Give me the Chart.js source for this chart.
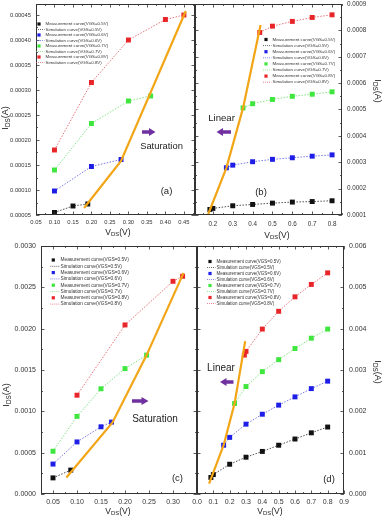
<!DOCTYPE html>
<html lang="en">
<head>
<meta charset="UTF-8">
<title>IDS-VDS: measurement vs simulation</title>
<script src="https://cdn.jsdelivr.net/npm/chart.js@4.4.1/dist/chart.umd.min.js"></script>
<style>
  body { margin: 0; background: #fff; font-family: 'Liberation Sans', Arial, sans-serif; }
  #wrap { position: relative; width: 385px; height: 516px; overflow: hidden; }
  #wrap canvas { position: absolute; left: 0; top: 0; }
  #wrap svg { position: absolute; left: 0; top: 0; }
  .t { position: absolute; color: #222; white-space: nowrap; line-height: 1; transform: translate(-50%, -50%); }
  .t sub { font-size: 70%; vertical-align: -0.25em; }
  .up { transform: translate(-50%, -50%) rotate(-90deg); }
  .down { transform: translate(-50%, -50%) rotate(90deg); }
</style>
</head>
<body>
<div id="wrap">
  <canvas id="ca" width="385" height="516"></canvas>
  <canvas id="cb" width="385" height="516"></canvas>
  <canvas id="cc" width="385" height="516"></canvas>
  <canvas id="cd" width="385" height="516"></canvas>

  <svg width="385" height="516">
    <g fill="#7030a0">
      <path d="M142 130.2 H149 V128 L155.5 132 L149 136 V133.8 H142 Z"/>
      <path d="M132 399.2 H141.5 V397 L148.5 401 L141.5 405 V402.8 H132 Z"/>
      <path d="M231 130.2 H223 V128 L216.5 132 L223 136 V133.8 H231 Z"/>
      <path d="M233.5 380.2 H226.5 V378 L220 382 L226.5 386 V383.8 H233.5 Z"/>
    </g>
  </svg>

  <div class="t" style="left:161.5px; top:146px; font-size:9.4px;">Saturation</div>
  <div class="t" style="left:155px; top:419px; font-size:10px;">Saturation</div>
  <div class="t" style="left:221.5px; top:118px; font-size:9.6px;">Linear</div>
  <div class="t" style="left:221px; top:367.5px; font-size:10px;">Linear</div>
  <div class="t" style="left:166.5px; top:191px; font-size:9.5px;">(a)</div>
  <div class="t" style="left:261px; top:191.5px; font-size:9.5px;">(b)</div>
  <div class="t" style="left:177.5px; top:478px; font-size:9.5px;">(c)</div>
  <div class="t" style="left:329px; top:478.5px; font-size:9.5px;">(d)</div>

  <div class="t up" style="left:6px; top:118px; font-size:9px;">I<sub>DS</sub>(A)</div>
  <div class="t down" style="left:377px; top:91px; font-size:9px;">I<sub>DS</sub>(A)</div>
  <div class="t up" style="left:7px; top:395px; font-size:9px;">I<sub>DS</sub>(A)</div>
  <div class="t down" style="left:377px; top:372px; font-size:9px;">I<sub>DS</sub>(A)</div>
  <div class="t" style="left:118px; top:232.5px; font-size:8.5px;">V<sub>DS</sub>(V)</div>
  <div class="t" style="left:277px; top:235.5px; font-size:8.5px;">V<sub>DS</sub>(V)</div>
  <div class="t" style="left:118px; top:512px; font-size:8.5px;">V<sub>DS</sub>(V)</div>
  <div class="t" style="left:270px; top:512px; font-size:8.5px;">V<sub>DS</sub>(V)</div>
</div>

<script>
// ---- (a) saturation region, small VDS range ----
const aX05 = [0.10, 0.15, 0.19];
const aY05 = [0.000055, 0.000068, 0.000072];
const aX06 = [0.10, 0.20, 0.28];
const aY06 = [0.000098, 0.000147, 0.000161];
const aX07 = [0.10, 0.20, 0.30, 0.36];
const aY07 = [0.00014, 0.000233, 0.000278, 0.000288];
const aX08 = [0.10, 0.20, 0.30, 0.40, 0.45];
const aY08 = [0.00018, 0.000315, 0.0004, 0.000441, 0.00045];
const aEdgeX = [0.18, 0.28, 0.455];
const aEdgeY = [0.000064, 0.000158, 0.000458];
const aXTicks = [0.05, 0.10, 0.15, 0.20, 0.25, 0.30, 0.35, 0.40, 0.45];
const aYTicks = [0.00005, 0.00010, 0.00015, 0.00020, 0.00025, 0.00030, 0.00035, 0.00040, 0.00045];

// ---- (b) linear region ----
const bX05 = [0.185, 0.2, 0.3, 0.4, 0.5, 0.6, 0.7, 0.8];
const bY05 = [0.000121, 0.000125, 0.000135, 0.00014, 0.000145, 0.000149, 0.000151, 0.000154];
const bX06 = [0.268, 0.3, 0.4, 0.5, 0.6, 0.7, 0.8];
const bY06 = [0.000279, 0.000289, 0.000302, 0.000311, 0.000317, 0.000323, 0.000328];
const bX07 = [0.352, 0.4, 0.5, 0.6, 0.7, 0.8];
const bY07 = [0.000506, 0.000522, 0.000538, 0.00055, 0.000558, 0.000567];
const bX08 = [0.436, 0.5, 0.6, 0.7, 0.8];
const bY08 = [0.000792, 0.000816, 0.000834, 0.000849, 0.000859];
const bEdgeX = [0.175, 0.268, 0.352, 0.44];
const bEdgeY = [0.0001, 0.000279, 0.000506, 0.00082];
const bXTicks = [0.2, 0.3, 0.4, 0.5, 0.6, 0.7, 0.8];
const bYTicks = [0.0001, 0.0002, 0.0003, 0.0004, 0.0005, 0.0006, 0.0007, 0.0008, 0.0009];

// ---- (c) saturation region, second device ----
const cX05 = [0.05, 0.087];
const cY05 = [0.000195, 0.000289];
const cX06 = [0.05, 0.10, 0.15, 0.172];
const cY06 = [0.000362, 0.00063, 0.000813, 0.00087];
const cX07 = [0.05, 0.10, 0.15, 0.20, 0.245];
const cY07 = [0.000517, 0.000939, 0.001273, 0.001517, 0.00168];
const cX08 = [0.10, 0.20, 0.30, 0.32];
const cY08 = [0.001195, 0.002045, 0.002573, 0.002634];
const cEdgeX = [0.078, 0.174, 0.245, 0.322];
const cEdgeY = [0.0002, 0.000866, 0.00168, 0.002675];
const cXTicks = [0.05, 0.10, 0.15, 0.20, 0.25, 0.30];
const cYTicks = [0, 0.0005, 0.0010, 0.0015, 0.0020, 0.0025, 0.0030];

// ---- (d) linear region, second device ----
const dX05 = [0.085, 0.1, 0.2, 0.3, 0.4, 0.5, 0.6, 0.7, 0.8];
const dY05 = [0.0004, 0.00047, 0.00072, 0.00089, 0.00103, 0.00118, 0.00133, 0.00148, 0.00162];
const dX06 = [0.163, 0.2, 0.3, 0.4, 0.5, 0.6, 0.7, 0.8];
const dY06 = [0.00118, 0.00137, 0.00169, 0.00193, 0.00215, 0.00235, 0.00255, 0.00273];
const dX07 = [0.23, 0.3, 0.4, 0.5, 0.6, 0.7, 0.8];
const dY07 = [0.00219, 0.0026, 0.00296, 0.00325, 0.00352, 0.00377, 0.00399];
const dX08 = [0.29, 0.3, 0.4, 0.5, 0.6, 0.7, 0.8];
const dY08 = [0.00336, 0.00345, 0.00399, 0.00442, 0.00477, 0.00507, 0.00535];
const dEdgeX = [0.074, 0.163, 0.23, 0.295];
const dEdgeY = [0.00025, 0.00118, 0.00219, 0.0037];
const dXTicks = [0.0, 0.1, 0.2, 0.3, 0.4, 0.5, 0.6, 0.7, 0.8, 0.9];
const dYTicks = [0, 0.001, 0.002, 0.003, 0.004, 0.005, 0.006];

const FONT = "'Liberation Sans', Arial, sans-serif";
const COLORS = { '0.5': '#111111', '0.6': '#1e1ee6', '0.7': '#3ee63e', '0.8': '#e8262a' };
const SIMCOL = { '0.5': '#222222', '0.6': '#5555dd', '0.7': '#66dd66', '0.8': '#e0505a' };

function pts(xs, ys) {
  return xs.map((v, i) => ({ x: v, y: ys[i] }));
}

function curve(vgs, xs, ys) {
  return [
    { label: 'Measurement curve(VGS=' + vgs + 'V)', data: pts(xs, ys), showLine: false,
      pointStyle: 'rect', pointRadius: 3.5, pointBorderWidth: 0,
      backgroundColor: COLORS[vgs], borderColor: COLORS[vgs], order: 1 },
    { label: 'Simulation curve(VGS=' + vgs + 'V)', data: pts(xs, ys), showLine: true,
      borderColor: SIMCOL[vgs], borderWidth: 0.8, borderDash: [1.5, 1.5], pointRadius: 0, order: 2 }
  ];
}

function edge(xs, ys) {
  return { label: 'region boundary', hideInLegend: true, data: pts(xs, ys), showLine: true,
    borderColor: '#f2a516', borderWidth: 2.2, pointRadius: 0, order: 0 };
}

// frame round the plot area, with inward major and minor ticks on all four sides
const boxPlugin = {
  id: 'box',
  afterDraw(chart) {
    const { ctx, chartArea: a, scales } = chart;
    const x = scales.x, y = scales.y;
    ctx.save();
    ctx.strokeStyle = '#333';
    ctx.lineWidth = 1;
    ctx.strokeRect(a.left + 0.5, a.top + 0.5, a.right - a.left - 1, a.bottom - a.top - 1);
    ctx.lineWidth = 0.8;
    ctx.beginPath();
    const marks = (scale, cb) => {
      const tv = scale.ticks.map(t => t.value);
      const step = tv[1] - tv[0];
      for (let i = -1; i < tv.length + 1; i++) {
        const major = tv[0] + i * step;
        const minor = major + step / 2;
        if (major >= scale.min - 1e-12 && major <= scale.max + 1e-12) cb(Math.round(scale.getPixelForValue(major)) + 0.5, 3.5);
        if (minor >= scale.min && minor <= scale.max) cb(Math.round(scale.getPixelForValue(minor)) + 0.5, 2);
      }
    };
    marks(x, (p, len) => {
      ctx.moveTo(p, a.bottom); ctx.lineTo(p, a.bottom - len);
      ctx.moveTo(p, a.top); ctx.lineTo(p, a.top + len);
    });
    marks(y, (p, len) => {
      ctx.moveTo(a.left, p); ctx.lineTo(a.left + len, p);
      ctx.moveTo(a.right, p); ctx.lineTo(a.right - len, p);
    });
    ctx.stroke();
    ctx.restore();
  }
};

// the tiny legend sitting inside each plot
const tinyLegend = {
  id: 'tinyLegend',
  afterDraw(chart, args, o) {
    if (!o || o.x == null) return;
    const ctx = chart.ctx;
    ctx.save();
    ctx.font = o.size + 'px ' + FONT;
    ctx.textBaseline = 'middle';
    let row = 0;
    chart.data.datasets.forEach(ds => {
      if (ds.hideInLegend) return;
      const yy = o.y + row * o.step;
      if (ds.showLine === false) {
        ctx.fillStyle = ds.backgroundColor;
        ctx.fillRect(o.x - 1.6, yy - 1.6, 3.2, 3.2);
      } else {
        ctx.strokeStyle = ds.borderColor;
        ctx.lineWidth = 0.7;
        ctx.setLineDash([1, 1]);
        ctx.beginPath();
        ctx.moveTo(o.x - 3, yy);
        ctx.lineTo(o.tx - 1, yy);
        ctx.stroke();
        ctx.setLineDash([]);
      }
      ctx.fillStyle = '#333';
      ctx.fillText(ds.label, o.tx, yy);
      row++;
    });
    ctx.restore();
  }
};

function panel(id, p) {
  const fixX = s => { s.height = p.xh; s.paddingLeft = s.paddingRight = s.paddingTop = s.paddingBottom = 0; };
  const fixY = s => { s.width = p.yw; s.paddingLeft = s.paddingRight = s.paddingTop = s.paddingBottom = 0; };
  new Chart(document.getElementById(id), {
    type: 'scatter',
    data: { datasets: p.sets },
    options: {
      responsive: false,
      animation: false,
      events: [],
      layout: { padding: p.pad },
      plugins: { legend: { display: false }, tooltip: { enabled: false }, tinyLegend: p.legend },
      scales: {
        x: {
          type: 'linear', min: p.xmin, max: p.xmax,
          afterBuildTicks: s => { s.ticks = p.xTicks.map(v => ({ value: v })); },
          afterFit: fixX,
          grid: { display: false, drawTicks: false, tickLength: 0 },
          border: { display: false },
          ticks: { padding: p.xpad, color: '#333', font: { family: FONT, size: p.fs },
            maxRotation: 0, autoSkip: false, callback: v => v.toFixed(p.xd) }
        },
        y: {
          type: 'linear', position: p.side, min: p.ymin, max: p.ymax,
          afterBuildTicks: s => { s.ticks = p.yTicks.map(v => ({ value: v })); },
          afterFit: fixY,
          grid: { display: false, drawTicks: false, tickLength: 0 },
          border: { display: false },
          ticks: { padding: 5, color: '#333', font: { family: FONT, size: p.fs },
            autoSkip: false, callback: v => v.toFixed(p.yd) }
        }
      }
    },
    plugins: [boxPlugin, tinyLegend]
  });
}

panel('ca', {
  sets: [...curve('0.5', aX05, aY05), ...curve('0.6', aX06, aY06), ...curve('0.7', aX07, aY07),
         ...curve('0.8', aX08, aY08), edge(aEdgeX, aEdgeY)],
  xmin: 0.05, xmax: 0.48, ymin: 0.00005, ymax: 0.000472,
  xTicks: aXTicks, yTicks: aYTicks, xd: 2, yd: 5, fs: 5.8,
  side: 'left', yw: 36, xh: 20, xpad: 4,
  pad: { left: 0, top: 4, right: 190, bottom: 281 },
  legend: { x: 39, tx: 45.5, y: 24, step: 5.5, size: 4.4 }
});

panel('cb', {
  sets: [...curve('0.5', bX05, bY05), ...curve('0.6', bX06, bY06), ...curve('0.7', bX07, bY07),
         ...curve('0.8', bX08, bY08), edge(bEdgeX, bEdgeY)],
  xmin: 0.11, xmax: 0.85, ymin: 0.0001, ymax: 0.0009,
  xTicks: bXTicks, yTicks: bYTicks, xd: 1, yd: 4, fs: 6.3,
  side: 'right', yw: 43, xh: 20, xpad: 5,
  pad: { left: 195, top: 4, right: 0, bottom: 281 },
  legend: { x: 266, tx: 272.5, y: 39.5, step: 6.1, size: 4.4 }
});

panel('cc', {
  sets: [...curve('0.5', cX05, cY05), ...curve('0.6', cX06, cY06), ...curve('0.7', cX07, cY07),
         ...curve('0.8', cX08, cY08), edge(cEdgeX, cEdgeY)],
  xmin: 0.025, xmax: 0.35, ymin: 0, ymax: 0.003,
  xTicks: cXTicks, yTicks: cYTicks, xd: 2, yd: 4, fs: 7,
  side: 'left', yw: 41, xh: 15, xpad: 4,
  pad: { left: 0, top: 246, right: 188, bottom: 7 },
  legend: { x: 53.3, tx: 60.5, y: 260, step: 6.3, size: 4.8 }
});

panel('cd', {
  sets: [...curve('0.5', dX05, dY05), ...curve('0.6', dX06, dY06), ...curve('0.7', dX07, dY07),
         ...curve('0.8', dX08, dY08), edge(dEdgeX, dEdgeY)],
  xmin: 0, xmax: 0.9, ymin: 0, ymax: 0.006,
  xTicks: dXTicks, yTicks: dYTicks, xd: 1, yd: 3, fs: 7,
  side: 'right', yw: 41, xh: 15, xpad: 4,
  pad: { left: 197, top: 246, right: 0, bottom: 7 },
  legend: { x: 210, tx: 216.5, y: 261.5, step: 6, size: 4.5 }
});
</script>
</body>
</html>
